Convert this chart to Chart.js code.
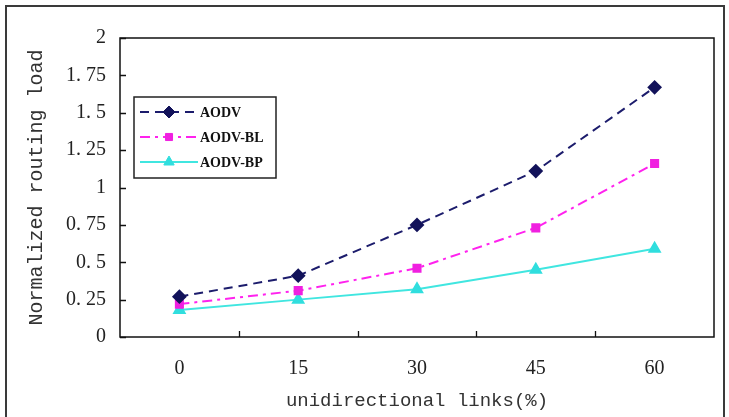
<!DOCTYPE html>
<html>
<head>
<meta charset="utf-8">
<script src="https://cdn.jsdelivr.net/npm/chart.js@4/dist/chart.umd.min.js"></script>
<style>
  html, body { margin: 0; padding: 0; background: #fff; }
  #wrap { position: relative; width: 729px; height: 417px; }
</style>
</head>
<body>
<div id="wrap"><canvas id="c" width="729" height="417"></canvas></div>
<script>
const categories = ['0', '15', '30', '45', '60'];
const aodv   = [0.27, 0.41, 0.75, 1.11, 1.67];
const aodvBL = [0.22, 0.31, 0.46, 0.73, 1.16];
const aodvBP = [0.18, 0.25, 0.32, 0.45, 0.59];
const yTickValues = [0, 0.25, 0.5, 0.75, 1, 1.25, 1.5, 1.75, 2];
const yTickLabels = ['0', '0. 25', '0. 5', '0. 75', '1', '1. 25', '1. 5', '1. 75', '2'];
const seriesNames = ['AODV', 'AODV-BL', 'AODV-BP'];

const frameAndTicks = {
  id: 'frameAndTicks',
  beforeDraw(chart) {
    const ctx = chart.ctx;
    ctx.save();
    ctx.fillStyle = '#fff';
    ctx.fillRect(0, 0, chart.width, chart.height);
    ctx.strokeStyle = '#3a3a3a';
    ctx.lineWidth = 2;
    ctx.strokeRect(6, 6, 718, 430);
    ctx.restore();
  },
  afterDraw(chart) {
    const ctx = chart.ctx;
    const a = chart.chartArea;
    const xs = chart.scales.x, ys = chart.scales.y;
    ctx.save();
    ctx.strokeStyle = '#111';
    ctx.lineWidth = 1.5;
    ctx.strokeRect(a.left, a.top, a.right - a.left, a.bottom - a.top);
    ctx.lineWidth = 1.3;
    ctx.beginPath();
    yTickValues.forEach(v => {
      const y = Math.round(ys.getPixelForValue(v)) + 0.5;
      ctx.moveTo(a.left, y); ctx.lineTo(a.left + 6, y);
    });
    for (let i = 0; i < categories.length - 1; i++) {
      const x = Math.round((xs.getPixelForTick(i) + xs.getPixelForTick(i + 1)) / 2) + 0.5;
      ctx.moveTo(x, a.bottom); ctx.lineTo(x, a.bottom - 6);
    }
    ctx.stroke();

    // legend
    const lx = 134, ly = 97, lw = 142, lh = 81;
    ctx.fillStyle = '#fff';
    ctx.fillRect(lx, ly, lw, lh);
    ctx.strokeStyle = '#222';
    ctx.lineWidth = 1.5;
    ctx.strokeRect(lx, ly, lw, lh);
    chart.data.datasets.forEach((ds, i) => {
      const y = ly + 15 + i * 25;
      ctx.save();
      ctx.strokeStyle = ds.borderColor;
      ctx.lineWidth = ds.borderWidth;
      ctx.setLineDash(ds.borderDash || []);
      ctx.beginPath();
      ctx.moveTo(lx + 6, y); ctx.lineTo(lx + 64, y);
      ctx.stroke();
      ctx.restore();
      ctx.save();
      ctx.fillStyle = ds.pointBackgroundColor;
      ctx.strokeStyle = ds.pointBorderColor;
      ctx.lineWidth = 1;
      Chart.helpers.drawPoint(ctx, {
        pointStyle: ds.pointStyle, radius: ds.pointRadius, rotation: 0, borderWidth: 1
      }, lx + 35, y);
      ctx.restore();
      ctx.fillStyle = '#111';
      ctx.font = 'bold 14px "Liberation Serif"';
      ctx.textBaseline = 'middle';
      ctx.fillText(seriesNames[i], lx + 66, y + 1);
    });
    ctx.restore();
  }
};

new Chart(document.getElementById('c'), {
  type: 'line',
  data: {
    labels: categories,
    datasets: [
      { label: seriesNames[0], data: aodv, borderColor: '#1c1c6c', backgroundColor: '#1c1c6c',
        borderWidth: 2, borderDash: [9, 6], pointStyle: 'rectRot', pointRadius: 6,
        pointBackgroundColor: '#12125a', pointBorderColor: '#12125a' },
      { label: seriesNames[1], data: aodvBL, borderColor: '#ff22ee', backgroundColor: '#ff22ee',
        borderWidth: 2, borderDash: [10, 5, 3, 5], pointStyle: 'rect', pointRadius: 5,
        pointBackgroundColor: '#f020e0', pointBorderColor: '#f020e0' },
      { label: seriesNames[2], data: aodvBP, borderColor: '#40e6e0', backgroundColor: '#40e6e0',
        borderWidth: 2, borderDash: [], pointStyle: 'triangle', pointRadius: 6,
        pointBackgroundColor: '#30dede', pointBorderColor: '#30dede' }
    ]
  },
  options: {
    responsive: false,
    animation: false,
    devicePixelRatio: 1,
    layout: { padding: { left: 0, top: 38, right: 15, bottom: 0 } },
    plugins: { legend: { display: false }, tooltip: { enabled: false } },
    scales: {
      x: {
        offset: true,
        grid: { display: false, drawTicks: false },
        border: { display: false },
        ticks: { color: '#222', padding: 20, font: { family: 'Liberation Serif', size: 20 } },
        title: { display: true, text: 'unidirectional links(%)', color: '#333',
                 font: { family: 'Liberation Mono', size: 19 }, padding: { top: 2, bottom: 5 } },
        afterFit(s) { s.height = 80; }
      },
      y: {
        min: 0, max: 2,
        afterBuildTicks(s) { s.ticks = yTickValues.map(v => ({ value: v })); },
        grid: { display: false, drawTicks: false },
        border: { display: false },
        ticks: {
          color: '#222', padding: 14, font: { family: 'Liberation Serif', size: 20 },
          callback: (v) => { const i = yTickValues.indexOf(v); return i >= 0 ? yTickLabels[i] : ''; }
        },
        title: { display: true, text: 'Normalized routing load', color: '#333',
                 font: { family: 'Liberation Mono', size: 20 }, padding: { top: 25, bottom: 0 } },
        afterFit(s) { s.width = 120; }
      }
    }
  },
  plugins: [frameAndTicks]
});
</script>
</body>
</html>
